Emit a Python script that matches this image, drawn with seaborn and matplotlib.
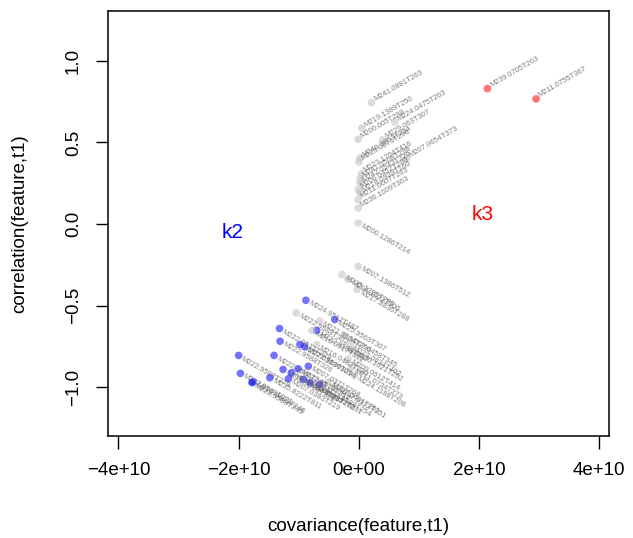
import numpy as np
import pandas as pd
import seaborn as sns
import matplotlib
matplotlib.use("Agg")
import matplotlib.pyplot as plt
from matplotlib.transforms import offset_copy

# features: name, covariance(feature,t1), correlation(feature,t1), group
features = [
    "M241.0881T263", "M219.1389T250", "M200.005T298", "M224.0475T263", "M229.063T307",
    "M248.9853T254", "M223.0871T298", "M207.0654T373", "M223.1704T416", "M241.0508T298",
    "M242.0543T326", "M206.0452T280", "M218.0939T160", "M211.0607T263", "M236.1009T363",
    "M200.1286T214",
    "M239.0705T263", "M211.0755T367",
    "M207.1386T512", "M235.1335T290", "M204.1022T306", "M217.8836T288",
    "M224.9512T487", "M222.9588T302", "M225.9563T307", "M221.9604T296", "M222.9588T287",
    "M210.0917T312", "M222.9571T329", "M222.9588T326", "M207.0383T301", "M222.9590T294",
    "M216.0482T330", "M222.9588T279", "M222.9586T283", "M207.0371T268", "M222.9588T301",
    "M207.0384T217", "M222.9579T312", "M222.9588T271", "M222.9588T245", "M222.9601T246",
    "M235.8222T811", "M207.0383T219", "M222.9588T260", "M207.0392T231", "M222.9588T254",
    "M207.0401T251", "M207.0458T345", "M223.0634T402", "M230.1021T292", "M209.0612T414",
    "M211.0734T273", "M224.1188T208", "M207.0312T251",
]
covariance = [
    0.21e10, 0.05e10, -0.01e10, 0.60e10, 0.40e10,
    0.02e10, 0.00e10, 0.80e10, 0.04e10, 0.02e10,
    0.02e10, -0.01e10, 0.02e10, -0.01e10, -0.01e10,
    -0.01e10,
    2.14e10, 2.95e10,
    -0.01e10, -0.28e10, -0.18e10, -0.03e10,
    -0.88e10, -1.04e10, -0.40e10, -0.65e10, -0.70e10,
    -0.78e10, -1.32e10, -1.31e10, -0.98e10, -0.90e10,
    -0.70e10, -2.00e10, -1.41e10, -0.84e10, -1.26e10,
    -1.12e10, -1.01e10, -1.97e10, -1.78e10, -1.76e10,
    -1.48e10, -1.17e10, -0.92e10, -0.81e10, -0.65e10,
    -0.51e10, -0.23e10, -0.15e10, -0.12e10, -0.18e10,
    -0.12e10, -0.07e10, -0.40e10,
]
correlation = [
    0.744, 0.588, 0.520, 0.624, 0.516,
    0.404, 0.381, 0.404, 0.307, 0.277,
    0.251, 0.210, 0.190, 0.149, 0.098,
    0.006,
    0.830, 0.767,
    -0.260, -0.310, -0.340, -0.402,
    -0.468, -0.545, -0.586, -0.596, -0.653,
    -0.653, -0.641, -0.719, -0.739, -0.753,
    -0.739, -0.806, -0.806, -0.872, -0.892,
    -0.912, -0.888, -0.916, -0.973, -0.968,
    -0.943, -0.949, -0.953, -0.973, -0.984,
    -0.970, -0.685, -0.740, -0.770, -0.830,
    -0.880, -0.930, -1.000,
]
group = (["none"] * 16 + ["k3"] * 2 + ["none"] * 4
         + ["k2", "none", "k2", "none", "k2",
            "none", "k2", "k2", "k2", "k2",
            "none", "k2", "k2", "k2", "k2",
            "k2", "k2", "k2", "k2", "k2",
            "k2", "k2", "k2", "k2", "k2",
            "none", "none", "none", "none", "none",
            "none", "none", "none"])

x_ticks = [-4e10, -2e10, 0, 2e10, 4e10]
x_ticklabels = ["\u22124e+10", "\u22122e+10", "0e+00", "2e+10", "4e+10"]
y_ticks = [-1.0, -0.5, 0.0, 0.5, 1.0]
y_ticklabels = ["\u22121.0", "\u22120.5", "0.0", "0.5", "1.0"]

df = pd.DataFrame({"feature": features, "cov": covariance,
                   "corr": correlation, "group": group})

sns.set_theme(style="white")
plt.rcParams["font.family"] = ["Liberation Sans", "DejaVu Sans"]

fig = plt.figure(figsize=(6.33, 5.38), dpi=100)
ax = fig.add_axes([0.171, 0.1896, 0.7916, 0.79])

palette = {"none": "#bebebe", "k2": "#0000ff", "k3": "#ff0000"}
sns.scatterplot(data=df, x="cov", y="corr", hue="group", palette=palette,
                s=30, alpha=0.55, edgecolor="none", legend=False, ax=ax)

for _, r in df.iterrows():
    rot = 30 if r["corr"] > 0.05 else -30
    dy = 2 if rot > 0 else -2
    tr = offset_copy(ax.transData, fig=fig, x=2, y=dy, units="points")
    ax.text(r["cov"], r["corr"], r["feature"], transform=tr, rotation=rot,
            rotation_mode="anchor", ha="left", va="center",
            fontsize=5.5, color="#555555", alpha=0.75)

ax.text(-2.1e10, -0.05, "k2", color="blue", fontsize=15, ha="center", va="center")
ax.text(2.07e10, 0.06, "k3", color="red", fontsize=15, ha="center", va="center")

ax.set_xlim(-4.17e10, 4.17e10)
ax.set_ylim(-1.3, 1.306)
ax.set_xticks(x_ticks)
ax.set_xticklabels(x_ticklabels)
ax.set_yticks(y_ticks)
ax.set_yticklabels(y_ticklabels, rotation=90, va="center")
ax.tick_params(axis="both", direction="out", length=9, width=1, color="black",
               labelsize=13.5, labelcolor="black", bottom=True, left=True)
ax.tick_params(axis="x", pad=10)
ax.tick_params(axis="y", pad=10)
for sp in ax.spines.values():
    sp.set_color("black")
    sp.set_linewidth(1.1)
ax.set_xlabel("covariance(feature,t1)", fontsize=13.5, labelpad=28, color="black")
ax.set_ylabel("correlation(feature,t1)", fontsize=13.5, labelpad=26, color="black")

fig.savefig("out.png", dpi=100)
